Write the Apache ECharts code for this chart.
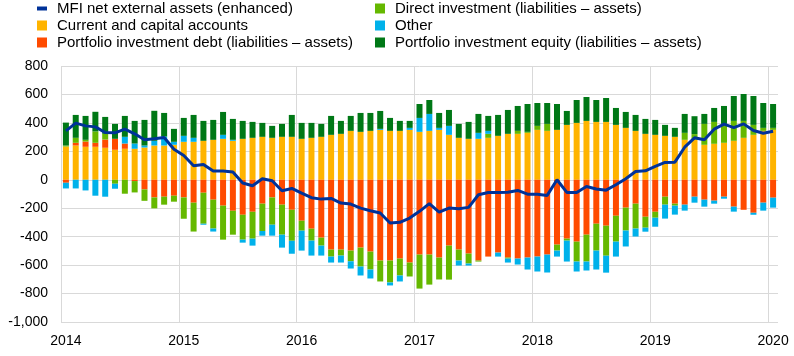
<!DOCTYPE html>
<html>
<head>
<meta charset="utf-8">
<script src="https://cdn.jsdelivr.net/npm/echarts@6/dist/echarts.min.js"></script>
<style>
html,body{margin:0;padding:0;background:#fff;}
#chart{width:794px;height:356px;}
</style>
</head>
<body>
<div id="chart"></div>
<script>
const months = ['2014-01','2014-02','2014-03','2014-04','2014-05','2014-06','2014-07','2014-08','2014-09','2014-10','2014-11','2014-12',
'2015-01','2015-02','2015-03','2015-04','2015-05','2015-06','2015-07','2015-08','2015-09','2015-10','2015-11','2015-12',
'2016-01','2016-02','2016-03','2016-04','2016-05','2016-06','2016-07','2016-08','2016-09','2016-10','2016-11','2016-12',
'2017-01','2017-02','2017-03','2017-04','2017-05','2017-06','2017-07','2017-08','2017-09','2017-10','2017-11','2017-12',
'2018-01','2018-02','2018-03','2018-04','2018-05','2018-06','2018-07','2018-08','2018-09','2018-10','2018-11','2018-12',
'2019-01','2019-02','2019-03','2019-04','2019-05','2019-06','2019-07','2019-08','2019-09','2019-10','2019-11','2019-12',
'2020-01'];
const yearLabels = ['2014','2015','2016','2017','2018','2019','2020'];

const currentCapital = [234,241,232,232,225,211,218,218,227,241,241,246,
267,267,274,281,288,274,288,295,302,295,302,302,
288,295,302,316,323,344,337,344,351,344,344,351,
337,344,351,316,295,288,288,295,309,323,323,330,
351,344,351,386,400,414,407,407,386,365,344,323,
316,309,302,281,281,246,253,260,274,295,316,344,
351];
const portfolioDebt = [-21,19,37,28,58,77,37,-9,-68,-124,-119,-112,
-124,-161,-91,-140,-182,-218,-246,-225,-168,-124,-175,-211,
-288,-344,-407,-491,-491,-498,-477,-505,-568,-568,-554,-582,
-526,-526,-547,-463,-491,-519,-568,-540,-512,-547,-554,-547,
-540,-526,-456,-414,-435,-386,-309,-323,-253,-196,-168,-260,
-225,-119,-168,-175,-119,-140,-147,-119,-189,-211,-232,-161,
-126];
const directInvestment = [7,35,12,80,40,-28,-98,-80,-80,-77,-56,-42,
-150,-203,-218,-203,-239,-168,-175,-189,-192,-192,-211,-218,
-70,-84,-56,-49,-42,-75,-133,-126,-147,-154,-119,-98,
-239,-211,-154,-239,-77,-70,-7,28,0,-7,21,7,
28,49,-42,-14,-140,-189,-189,-211,-182,-161,-175,-77,
-42,-56,-14,49,40,147,154,133,140,119,70,21,
14];
const other = [-40,-61,-75,-112,-119,-35,47,37,14,33,63,21,
42,28,-7,-21,28,7,-21,-49,-33,-77,-91,-91,
-140,-105,-70,-42,-49,-51,-63,-63,7,-21,-42,14,
98,119,14,63,-35,-14,42,21,-28,-28,-42,-84,
-105,-126,-42,-147,-70,-63,-133,-119,-105,-112,-56,-28,
-63,-98,-63,-42,-42,-49,-21,-14,-35,0,-14,-56,
-70];
const portfolioEquity = [161,161,168,138,119,105,147,159,180,211,166,91,
126,161,140,140,161,147,126,112,98,84,91,154,
112,105,91,133,91,105,133,126,126,91,70,49,
98,98,105,112,98,119,133,105,147,168,175,196,
161,147,182,98,161,168,154,168,119,112,112,105,
105,77,63,133,126,70,98,126,175,189,203,175,
168];
const mfiNet = [344,398,379,372,332,330,356,323,281,288,297,215,
171,98,108,61,61,54,-23,-42,7,-7,-77,-61,
-94,-126,-136,-131,-164,-171,-199,-218,-234,-304,-299,-269,
-222,-168,-227,-199,-203,-194,-105,-89,-89,-87,-75,-101,
-101,-110,0,-89,-89,-47,-65,-73,-35,7,58,63,
94,122,124,229,295,281,356,391,367,393,346,327,
341];

const names = {
  mfi: 'MFI net external assets (enhanced)',
  cur: 'Current and capital accounts',
  pd: 'Portfolio investment debt (liabilities \u2013 assets)',
  di: 'Direct investment (liabilities \u2013 assets)',
  oth: 'Other',
  pe: 'Portfolio investment equity (liabilities \u2013 assets)'
};
const colors = {mfi:'#003299', cur:'#ffb400', pd:'#ff4b00', di:'#65b800', oth:'#00b1ea', pe:'#007816'};

const chart = echarts.init(document.getElementById('chart'), null, {renderer:'canvas'});
const font = "'Liberation Sans', Arial, sans-serif";
function bar(key, data){
  return {name:names[key], type:'bar', stack:'total', data:data, barWidth:6,
    itemStyle:{color:colors[key]}, emphasis:{disabled:true}, animation:false};
}
const legendCommon = {orient:'vertical', top:1, padding:0, itemWidth:10, itemHeight:10, itemGap:2,
  textStyle:{fontFamily:font, fontSize:15, color:'#000', padding:[0,0,0,5]}, selectedMode:false};
const lineIcon = 'path://M0,0 M0,3h10v4h-10z M10,10';
chart.setOption({
  animation:false,
  textStyle:{fontFamily:font},
  legend:[
    Object.assign({}, legendCommon, {left:37, data:[{name:names.mfi, icon:lineIcon},{name:names.cur, icon:'rect'},{name:names.pd, icon:'rect'}]}),
    Object.assign({}, legendCommon, {left:375, data:[{name:names.di, icon:'rect'},{name:names.oth, icon:'rect'},{name:names.pe, icon:'rect'}]})
  ],
  grid:{left:61, right:16, top:66, bottom:34, containLabel:false},
  xAxis:{type:'category', data:months, boundaryGap:true,
    axisLine:{show:false}, axisTick:{show:false},
    axisLabel:{interval:function(i){return i%12===0;}, formatter:function(v,i){return yearLabels[Math.floor(i/12)];},
      fontFamily:font, fontSize:14, color:'#000', margin:12},
    splitLine:{show:true, interval:function(i){return i%12===0;}, showMaxLine:false, lineStyle:{color:'#d9d9d9', width:1}}
  },
  yAxis:{type:'value', min:-1000, max:800, interval:200,
    axisLine:{show:false}, axisTick:{show:false},
    axisLabel:{fontFamily:font, fontSize:14, color:'#000', margin:13},
    splitLine:{show:true, lineStyle:{color:'#d9d9d9', width:1}}
  },
  series:[
    bar('cur', currentCapital),
    bar('pd', portfolioDebt),
    bar('di', directInvestment),
    bar('oth', other),
    bar('pe', portfolioEquity),
    {name:names.mfi, type:'line', data:mfiNet, symbol:'none', lineStyle:{color:colors.mfi, width:3},
      itemStyle:{color:colors.mfi}, emphasis:{disabled:true}, z:5}
  ]
});
</script>
</body>
</html>
